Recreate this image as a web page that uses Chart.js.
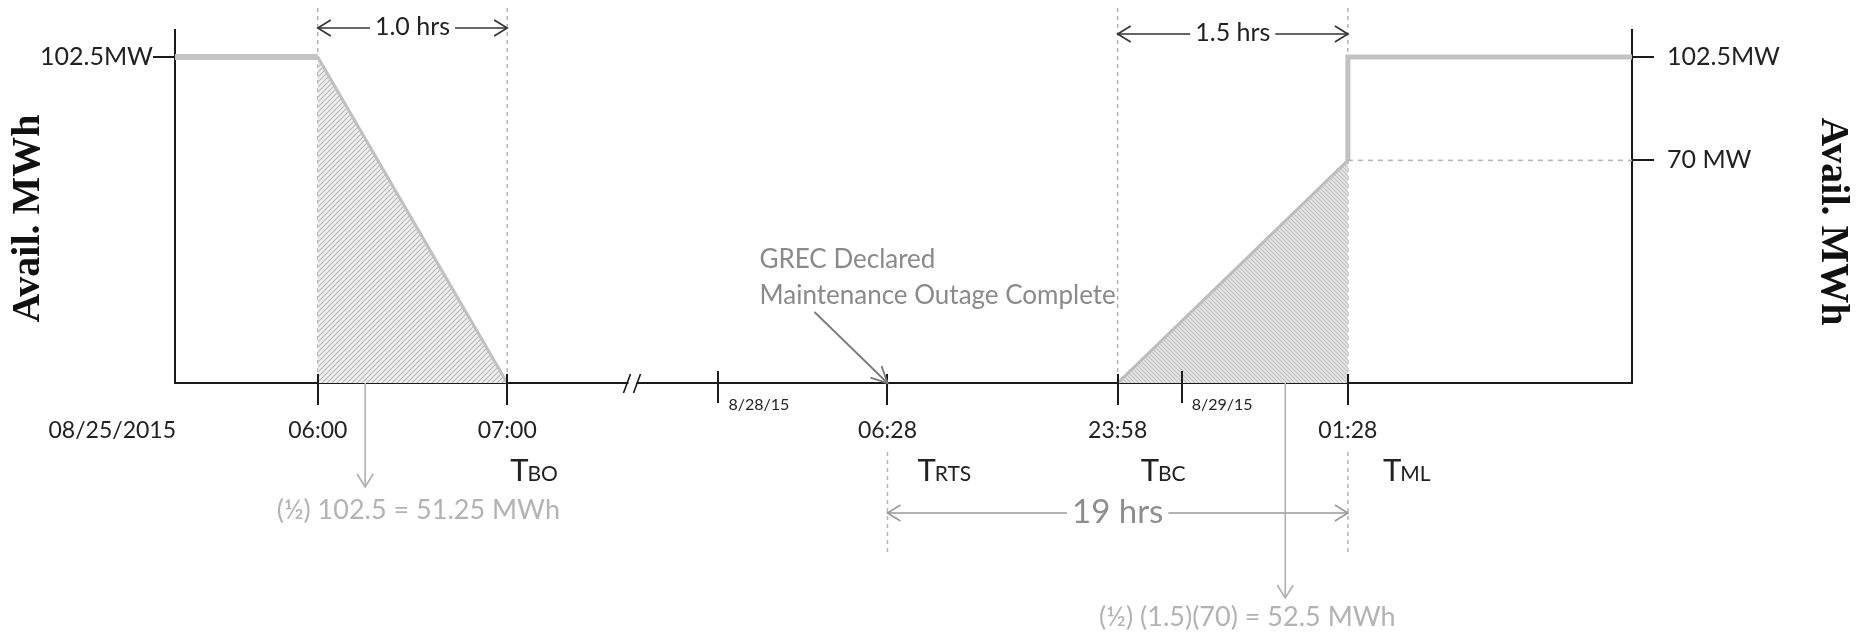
<!DOCTYPE html>
<html><head><meta charset="utf-8">
<script src="https://cdn.jsdelivr.net/npm/chart.js@4.4.1/dist/chart.umd.min.js"></script>
<style>html,body{margin:0;padding:0;background:#fff;} canvas{display:block;}</style>
</head><body>
<canvas id="c" width="1869" height="643"></canvas>
<script>
// ---------- data ----------
const eventLabels = ['06:00', '07:00', '06:28', '23:58', '01:28'];
const eventPos = [9.8, 22.8, 48.9, 64.7, 80.5];       // positions on the schematic (broken) time axis
const eventTagMain = ['', 'T', 'T', 'T', 'T'];
const eventTagSub = ['', 'BO', 'RTS', 'BC', 'ML'];
const startDate = '08/25/2015';
const dayLabels = ['8/28/15', '8/29/15'];
const dayPos = [37.3, 69.1];
const breakPos = [31.4];
const levelValues = [102.5, 70];
const levelLabels = ['102.5MW', '70 MW'];
const fullMW = 102.5;
const rampMW = 70;
const durationLabels = ['1.0 hrs', '1.5 hrs', '19 hrs'];
const energyLabels = ['(\u00BD) 102.5 = 51.25 MWh', '(\u00BD) (1.5)(70) = 52.5 MWh'];
const energyArrowPos = [13.05, 76.2];
const energyTextPos = [16.7, 73.6];
const noteLines = ['GREC Declared', 'Maintenance Outage Complete'];
const axisTitle = 'Avail. MWh';
const X_MAX = 100;
const Y_MAX = 111;

// ---------- series built from the data ----------
const lvlLeft = [{x: 0, y: fullMW}, {x: eventPos[0], y: fullMW}];
const derate = [{x: eventPos[0], y: fullMW}, {x: eventPos[1], y: 0}];
const ramp = [{x: eventPos[3], y: 0}, {x: eventPos[4], y: rampMW}];
const stepUp = [{x: eventPos[4], y: rampMW}, {x: eventPos[4], y: fullMW}, {x: X_MAX, y: fullMW}];
const rampRef = [{x: eventPos[4], y: rampMW}, {x: X_MAX, y: rampMW}];

// ---------- styles ----------
const FONT = 'Lato';
const canvas = document.getElementById('c');
const mainCtx = canvas.getContext('2d');
function hatch(lineColor, bg, s, dir) {
  const t = document.createElement('canvas'); t.width = s; t.height = s;
  const g = t.getContext('2d');
  g.fillStyle = bg; g.fillRect(0, 0, s, s);
  g.strokeStyle = lineColor; g.lineWidth = 1.1;
  g.beginPath();
  if (dir > 0) {
    g.moveTo(-1, s + 1); g.lineTo(s + 1, -1);
    g.moveTo(-1, 1); g.lineTo(1, -1);
    g.moveTo(s - 1, s + 1); g.lineTo(s + 1, s - 1);
  } else {
    g.moveTo(-1, -1); g.lineTo(s + 1, s + 1);
    g.moveTo(s - 1, -1); g.lineTo(s + 1, 1);
    g.moveTo(-1, s - 1); g.lineTo(1, s + 1);
  }
  g.stroke();
  return mainCtx.createPattern(t, 'repeat');
}
const hatchL = hatch('#b8b8b8', '#eeeeee', 5, 1);
const hatchR = hatch('#c0c0c0', '#e6e6e6', 4, -1);

function chevron(ctx, x, y, dx, dy, len, half) {
  const bx = x - dx * len, by = y - dy * len;
  ctx.beginPath();
  ctx.moveTo(bx - dy * half, by + dx * half);
  ctx.lineTo(x, y);
  ctx.lineTo(bx + dy * half, by - dx * half);
  ctx.stroke();
}
function dimArrow(ctx, xa, xb, yy, text, size, color, textColor) {
  ctx.font = size + 'px ' + FONT;
  const w = ctx.measureText(text).width;
  const mid = (xa + xb) / 2;
  ctx.strokeStyle = color; ctx.lineWidth = 1.6;
  ctx.beginPath();
  ctx.moveTo(xa, yy); ctx.lineTo(mid - w / 2 - 5, yy);
  ctx.moveTo(mid + w / 2 + 5, yy); ctx.lineTo(xb, yy);
  ctx.stroke();
  chevron(ctx, xa, yy, -1, 0, 13, 8);
  chevron(ctx, xb, yy, 1, 0, 13, 8);
  ctx.fillStyle = textColor; ctx.textAlign = 'center'; ctx.textBaseline = 'middle';
  ctx.fillText(text, mid, yy - 1);
}
function vDash(ctx, x, y1, y2) {
  ctx.save();
  ctx.strokeStyle = '#b4b4b4'; ctx.lineWidth = 1.5; ctx.setLineDash([4, 4]);
  ctx.beginPath(); ctx.moveTo(x, y1); ctx.lineTo(x, y2); ctx.stroke();
  ctx.restore();
}

const backPlugin = {
  id: 'back',
  beforeDatasetsDraw(chart) {
    const {ctx, scales: {x, y}} = chart;
    const base = y.getPixelForValue(0);
    ctx.save();
    [0, 1, 3, 4].forEach(i => vDash(ctx, x.getPixelForValue(eventPos[i]), 8, base));
    [2, 4].forEach(i => vDash(ctx, x.getPixelForValue(eventPos[i]), base + 69, base + 172));
    ctx.restore();
  }
};

const annotPlugin = {
  id: 'annot',
  afterDraw(chart) {
    const {ctx, scales: {x, y, y2}, chartArea} = chart;
    const px = v => x.getPixelForValue(v);
    const base = y.getPixelForValue(0);
    ctx.save();
    // axis titles (one per value axis)
    ctx.font = 'bold 40px "Liberation Serif"';
    ctx.fillStyle = '#111'; ctx.textAlign = 'center'; ctx.textBaseline = 'middle';
    const ty0 = (chartArea.top + chartArea.bottom) / 2 + 12;
    ctx.save(); ctx.translate(y.left + 29, ty0); ctx.rotate(-Math.PI / 2); ctx.fillText(axisTitle, 0, 0); ctx.restore();
    ctx.save(); ctx.translate(y2.right - 37, ty0 + 3); ctx.rotate(Math.PI / 2); ctx.fillText(axisTitle, 0, 0); ctx.restore();
    // axis break
    const bx = px(breakPos[0]);
    ctx.fillStyle = '#fff'; ctx.fillRect(bx - 4, base - 3, 8, 6);
    ctx.strokeStyle = '#1a1a1a'; ctx.lineWidth = 1.6;
    ctx.beginPath();
    ctx.moveTo(bx - 9, base + 10); ctx.lineTo(bx - 2, base - 9);
    ctx.moveTo(bx + 1, base + 10); ctx.lineTo(bx + 8, base - 9);
    ctx.stroke();
    // tick marks
    ctx.strokeStyle = '#1a1a1a'; ctx.lineWidth = 2;
    ctx.beginPath();
    eventPos.forEach(v => { const xx = Math.round(px(v)); ctx.moveTo(xx, base - 9); ctx.lineTo(xx, base + 22); });
    dayPos.forEach(v => { const xx = Math.round(px(v)); ctx.moveTo(xx, base - 12); ctx.lineTo(xx, base + 20); });
    ctx.stroke();
    // time labels
    ctx.fillStyle = '#222'; ctx.textBaseline = 'alphabetic';
    ctx.font = '23px ' + FONT; ctx.textAlign = 'center';
    eventLabels.forEach((t, i) => ctx.fillText(t, px(eventPos[i]), base + 55));
    ctx.textAlign = 'right';
    ctx.fillText(startDate, px(0) + 1, base + 55);
    // day labels
    ctx.font = '16px ' + FONT; ctx.textAlign = 'left';
    dayLabels.forEach((t, i) => ctx.fillText(t, px(dayPos[i]) + 10, base + 27));
    // event tags (T + subscript)
    const tagDx = [0, 3, 30, 23, 35];
    eventTagMain.forEach((t, i) => {
      if (!t) return;
      const x0 = px(eventPos[i]) + tagDx[i];
      ctx.font = '31px ' + FONT; ctx.textAlign = 'left';
      ctx.fillText(t, x0, base + 98);
      const w = ctx.measureText(t).width;
      ctx.font = '21px ' + FONT;
      ctx.fillText(eventTagSub[i], x0 + w - 1, base + 98);
    });
    // duration arrows
    dimArrow(ctx, px(eventPos[0]), px(eventPos[1]), chartArea.top - 2, durationLabels[0], 25, '#333', '#222');
    dimArrow(ctx, px(eventPos[3]), px(eventPos[4]), chartArea.top + 4, durationLabels[1], 25, '#333', '#222');
    dimArrow(ctx, px(eventPos[2]), px(eventPos[4]), base + 130, durationLabels[2], 33, '#9a9a9a', '#8e8e8e');
    // energy arrows + texts
    ctx.strokeStyle = '#b0b0b0'; ctx.lineWidth = 1.6;
    const ends = [base + 104, base + 215];
    energyArrowPos.forEach((v, i) => {
      const xx = px(v);
      ctx.beginPath(); ctx.moveTo(xx, base); ctx.lineTo(xx, ends[i]); ctx.stroke();
      chevron(ctx, xx, ends[i], 0, 1, 13, 8);
    });
    ctx.fillStyle = '#b3b3b3'; ctx.textAlign = 'center'; ctx.textBaseline = 'middle';
    ctx.font = '27px ' + FONT;
    ctx.fillText(energyLabels[0], px(energyTextPos[0]), base + 127);
    ctx.fillText(energyLabels[1], px(energyTextPos[1]), base + 234);
    // GREC note
    const nx = px(eventPos[2]);
    ctx.fillStyle = '#8a8a8a'; ctx.textAlign = 'left'; ctx.textBaseline = 'middle';
    ctx.font = '26px ' + FONT;
    ctx.fillText(noteLines[0], nx - 128, base - 123);
    ctx.fillText(noteLines[1], nx - 128, base - 87);
    ctx.strokeStyle = '#7a7a7a'; ctx.lineWidth = 1.8;
    const tx = nx - 73, ty = base - 71;
    ctx.beginPath(); ctx.moveTo(tx, ty); ctx.lineTo(nx, base); ctx.stroke();
    const L = Math.hypot(nx - tx, base - ty);
    chevron(ctx, nx, base, (nx - tx) / L, (base - ty) / L, 16, 8);
    ctx.restore();
  }
};

const lineDs = (data, color, width, extra) => Object.assign({
  data, borderColor: color, borderWidth: width, showLine: true, pointRadius: 0,
  fill: false, clip: false, borderJoinStyle: 'miter', tension: 0
}, extra || {});

const tickFont = {family: FONT, size: 25};

new Chart(canvas, {
  type: 'scatter',
  data: {
    datasets: [
      lineDs(lvlLeft, '#c4c4c4', 6),
      lineDs(derate, '#c0c0c0', 3, {fill: 'origin', backgroundColor: hatchL}),
      lineDs(ramp, '#bdbdbd', 3, {fill: 'origin', backgroundColor: hatchR}),
      lineDs(stepUp, '#c2c2c2', 5),
      lineDs(rampRef, '#b4b4b4', 1.6, {borderDash: [5, 5]})
    ]
  },
  options: {
    responsive: false,
    devicePixelRatio: 1,
    animation: false,
    layout: {padding: {top: 30, left: 0, right: 0, bottom: 0}},
    plugins: {legend: {display: false}, tooltip: {enabled: false}},
    scales: {
      x: {
        type: 'linear', position: 'bottom', min: 0, max: X_MAX,
        ticks: {display: false},
        grid: {display: false},
        border: {display: true, color: '#1a1a1a', width: 2},
        afterFit: s => { s.height = 260; }
      },
      y: {
        type: 'linear', position: 'left', min: 0, max: Y_MAX,
        afterBuildTicks: s => { s.ticks = [{value: levelValues[0]}]; },
        ticks: {callback: v => levelLabels[levelValues.indexOf(v)], font: tickFont, color: '#222', padding: 0},
        grid: {display: true, drawOnChartArea: false, drawTicks: true, tickLength: 22, color: '#1a1a1a', lineWidth: 2},
        border: {display: true, color: '#1a1a1a', width: 2},
        afterFit: s => { s.width = 175; }
      },
      y2: {
        type: 'linear', position: 'right', min: 0, max: Y_MAX,
        afterBuildTicks: s => { s.ticks = levelValues.map(v => ({value: v})); },
        ticks: {callback: v => levelLabels[levelValues.indexOf(v)], font: tickFont, color: '#222', padding: 13},
        grid: {display: true, drawOnChartArea: false, drawTicks: true, tickLength: 22, color: '#1a1a1a', lineWidth: 2},
        border: {display: true, color: '#1a1a1a', width: 2},
        afterFit: s => { s.width = 237; }
      }
    }
  },
  plugins: [backPlugin, annotPlugin]
});
</script>
</body></html>
